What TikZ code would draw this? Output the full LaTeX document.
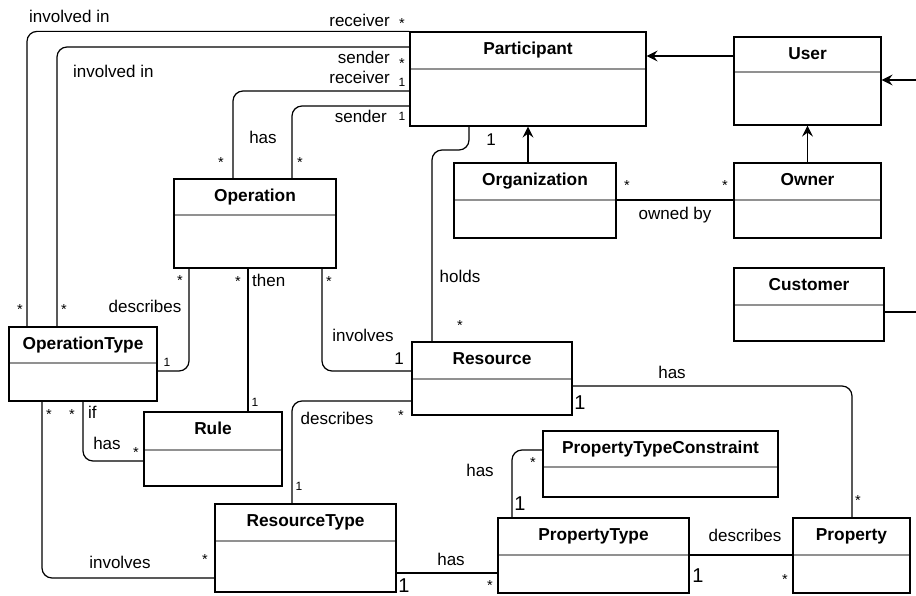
\documentclass[tikz,border=0pt]{standalone}
\usepackage{fontspec}
\setmainfont{Liberation Sans}
\usetikzlibrary{arrows.meta, calc}
\definecolor{sepgray}{RGB}{145,145,145}

\begin{document}
\begin{tikzpicture}[x=1pt, y=-1pt,
  every node/.style={font=\fontsize{17}{20}\selectfont},
  cls/.style={draw=black, line width=1.2pt, inner sep=0pt,
    path picture={\draw[sepgray, line width=1.6pt]
      ([yshift=-#1]path picture bounding box.north west) --
      ([yshift=-#1]path picture bounding box.north east);}},
  cls/.default=37pt,
  title/.style={anchor=north, font=\fontsize{17.3}{20}\selectfont\bfseries,
                inner sep=0pt, text height=12.5pt, yshift=-10.5pt},
  lbl/.style={inner sep=0pt},
  star/.style={font=\fontsize{14.5}{14.5}\selectfont, inner sep=0pt, yshift=-3pt},
  one/.style={font=\fontsize{12}{12}\selectfont, inner sep=0pt},
  bigone/.style={font=\fontsize{20}{20}\selectfont, inner sep=0pt},
  assoc/.style={line width=1.2pt, rounded corners=10pt},
  inh/.style={line width=1.2pt, -{Stealth[length=11pt, width=11pt, inset=4pt]}}
]
\useasboundingbox (0,0) rectangle (916,596);

% Top row: participants
\node[cls, minimum width=236pt, minimum height=94pt, label={[title]north:Participant}] (Participant) at (528,79) {};
\node[cls=35pt, minimum width=147pt, minimum height=88pt, label={[title]north:User}] (User) at (807.5,81) {};
\node[cls, minimum width=162pt, minimum height=75pt, label={[title]north:Organization}] (Organization) at (535,200.5) {};
\node[cls, minimum width=147pt, minimum height=75pt, label={[title]north:Owner}] (Owner) at (807.5,200.5) {};
\node[cls, minimum width=150pt, minimum height=73pt, label={[title]north:Customer}] (Customer) at (809,304.5) {};

% Middle: operations
\node[cls=36pt, minimum width=162pt, minimum height=89pt, label={[title]north:Operation}] (Operation) at (255,223.5) {};
\node[cls=36pt, minimum width=148pt, minimum height=74pt, label={[title]north:OperationType}] (OperationType) at (83,364) {};
\node[cls, minimum width=160pt, minimum height=73pt, label={[title]north:Resource}] (Resource) at (492,378.5) {};
\node[cls=38pt, minimum width=138pt, minimum height=74pt, label={[title]north:Rule}] (Rule) at (213,449) {};

% Bottom: types and properties
\node[cls, minimum width=181pt, minimum height=88pt, label={[title]north:ResourceType}] (ResourceType) at (305.5,548) {};
\node[cls=36pt, minimum width=235pt, minimum height=66pt, label={[title]north:PropertyTypeConstraint}] (PropertyTypeConstraint) at (660.5,464) {};
\node[cls, minimum width=191pt, minimum height=75pt, label={[title]north:PropertyType}] (PropertyType) at (593.5,555.5) {};
\node[cls, minimum width=117pt, minimum height=75pt, label={[title]north:Property}] (Property) at (851.5,555.5) {};

% Free ends on the right border
\coordinate (userEdge) at (916,80);
\coordinate (custEdge) at (916,312);

% Associations
\draw[assoc] (Participant.north west) -| (OperationType.north -| 27,0);
\draw[assoc] (Participant.west |- 0,47) -| (OperationType.north -| 57,0);
\draw[assoc] (Participant.west |- 0,91) -| (Operation.north -| 233,0);
\draw[assoc] (Participant.west |- 0,106) -| (Operation.north -| 292,0);
\draw[assoc] (Participant.south -| 469,0) |- (432,150) -- (Resource.north -| 432,0);
\draw[assoc] (Organization.east |- 0,200) -- (Owner.west |- 0,200);
\draw[assoc] (Operation.south -| 189,0) |- (OperationType.east |- 0,371);
\draw[assoc] (Operation.south -| 248,0) -- (Rule.north -| 248,0);
\draw[assoc] (Operation.south -| 322,0) |- (Resource.west |- 0,371);
\draw[assoc] (OperationType.south -| 83,0) |- (Rule.west |- 0,461);
\draw[assoc] (OperationType.south -| 42,0) |- (ResourceType.west |- 0,578);
\draw[assoc] (Resource.west |- 0,401) -| (ResourceType.north -| 292,0);
\draw[assoc] (Resource.east |- 0,386) -| (Property.north -| 852,0);
\draw[assoc] (ResourceType.east |- 0,573) -- (PropertyType.west |- 0,573);
\draw[assoc] (PropertyType.north -| 512,0) |- (PropertyTypeConstraint.west |- 0,450);
\draw[assoc] (PropertyType.east |- 0,555) -- (Property.west |- 0,555);
\draw[assoc] (Customer.east |- custEdge) -- (custEdge);

% Generalizations
\draw[inh] (Organization.north -| Participant.south) -- (Participant.south);
\draw[inh] (Owner.north) -- (User.south);
\draw[inh] (User.west |- 0,56) -- (Participant.east |- 0,56);
\draw[inh] (userEdge) -- (User.east |- userEdge);

% Labels: Participant side
\node[lbl, anchor=west] (invA) at (29,16) {involved in};
\node[lbl, anchor=east] (rcvA) at (390,20) {receiver};
\node[star] (mRcvA) at (402,21) {*};
\node[lbl, anchor=west] (invB) at (73,71) {involved in};
\node[lbl, anchor=east] (sndA) at (390,57) {sender};
\node[star] (mSndA) at (402,61) {*};
\node[lbl, anchor=east] (rcvB) at (390,77) {receiver};
\node[one] (mRcvB) at (402,82) {1};
\node[lbl, anchor=east] (sndB) at (387,116) {sender};
\node[one] (mSndB) at (402,116) {1};
\node[lbl] (hasOp) at (263,137) {has};
\node[star] (mOpA) at (221,160) {*};
\node[star] (mOpB) at (300,160) {*};
\node[lbl] (mHoldA) at (491,140) {1};
\node[lbl] (holds) at (460,276) {holds};
\node[star] (mHoldB) at (460,323) {*};
\node[star] (mOrg) at (627,183) {*};
\node[star] (mOwn) at (725,183) {*};
\node[lbl] (ownedBy) at (675,215) {owned by};

% Labels: Operation side
\node[star] (mInvA) at (20,307) {*};
\node[star] (mInvB) at (64,307) {*};
\node[star] (mDesc) at (180,278) {*};
\node[lbl] (descOp) at (145,306) {describes};
\node[one] (mDescOT) at (167,362) {1};
\node[star] (mThen) at (238,279) {*};
\node[lbl, anchor=west] (thenL) at (252,280) {then};
\node[one] (mRule) at (255,402) {1};
\node[star] (mInvR) at (329,279) {*};
\node[lbl] (invR) at (363,335) {involves};
\node[lbl] (mRes) at (399,359) {1};
\node[star] (mIfA) at (49,412) {*};
\node[star] (mIfB) at (72,412) {*};
\node[lbl, anchor=west] (ifL) at (88,412) {if};
\node[lbl] (hasRule) at (107,443) {has};
\node[star] (mHasRule) at (136,450) {*};

% Labels: Resource side
\node[lbl] (descRT) at (337,418) {describes};
\node[star] (mDescR) at (401,413) {*};
\node[one] (mDescRT) at (299,486) {1};
\node[lbl] (invRT) at (120,562) {involves};
\node[star] (mInvRT) at (205,557) {*};
\node[lbl] (hasProp) at (672,372) {has};
\node[bigone] (mHasPropA) at (580,403) {1};
\node[star] (mHasPropB) at (858,498) {*};
\node[lbl] (hasPT) at (451,559) {has};
\node[bigone] (mHasPTA) at (404,586) {1};
\node[star] (mHasPTB) at (490,583) {*};
\node[lbl] (hasPTC) at (480,470) {has};
\node[star] (mPTC) at (533,460) {*};
\node[bigone] (mPTCb) at (520,504) {1};
\node[lbl] (descProp) at (745,535) {describes};
\node[bigone] (mDescPA) at (698,576) {1};
\node[star] (mDescPB) at (785,577) {*};

\end{tikzpicture}
\end{document}
